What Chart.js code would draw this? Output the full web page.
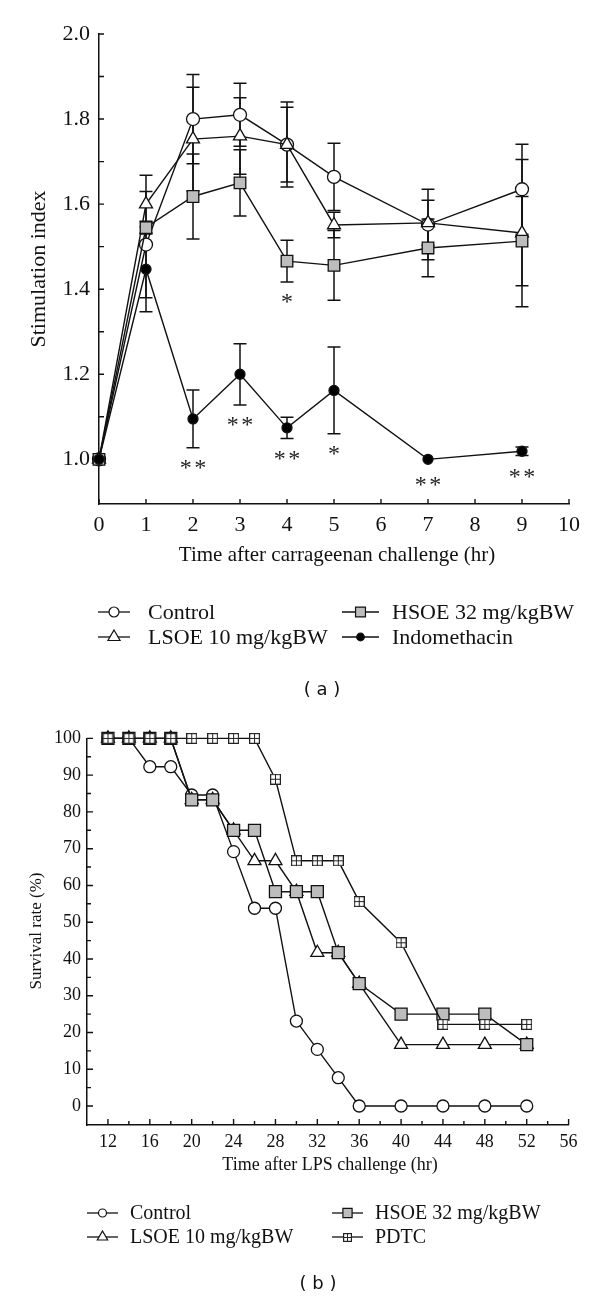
<!DOCTYPE html>
<html><head><meta charset="utf-8">
<script src="https://cdn.jsdelivr.net/npm/chart.js@4.4.1/dist/chart.umd.min.js"></script>
<style>
html,body{margin:0;padding:0;background:#fff;width:600px;height:1300px;overflow:hidden}
canvas{position:absolute;left:0}
#ca{top:0}
#cb{top:700px}
</style></head><body>
<canvas id="ca" width="600" height="700"></canvas>
<canvas id="cb" width="600" height="600"></canvas>
<script>
// ---------- Panel (a): stimulation index ----------
const aTimes = [0, 1, 2, 3, 4, 5, 7, 9];
const aControl = [1.0, 1.505, 1.80, 1.81, 1.74, 1.664, 1.552, 1.635];
const aControlErr = [0, 0.125, 0.105, 0.074, 0.10, 0.079, 0.083, 0.106];
const aLSOE = [1.0, 1.60, 1.753, 1.76, 1.74, 1.551, 1.556, 1.532];
const aLSOEErr = [0, 0.068, 0.122, 0.09, 0.088, 0.03, 0.053, 0.173];
const aHSOE = [1.0, 1.545, 1.618, 1.65, 1.466, 1.456, 1.497, 1.513];
const aHSOEErr = [0, 0.015, 0.10, 0.078, 0.049, 0.082, 0.068, 0.105];
const aIndo = [1.0, 1.447, 1.095, 1.20, 1.074, 1.162, 1.0, 1.019];
const aIndoErr = [0, 0.10, 0.068, 0.072, 0.025, 0.102, 0, 0.01];
const aHSOESig = ['', '', '', '', '*', '', '', ''];
const aIndoSig = ['', '', '**', '**', '**', '*', '**', '**'];
const aXTicks = [0, 1, 2, 3, 4, 5, 6, 7, 8, 9, 10];
const aYMajor = [1.0, 1.2, 1.4, 1.6, 1.8, 2.0];
const aYMinor = [1.1, 1.3, 1.5, 1.7, 1.9];

// ---------- Panel (b): survival rate ----------
const bTimes = [12, 14, 16, 18, 20, 22, 24, 26, 28, 30, 32, 34, 36, 40, 44, 48, 52];
const bControl = [100, 100, 92.3, 92.3, 84.6, 84.6, 69.2, 53.8, 53.8, 23.1, 15.4, 7.7, 0, 0, 0, 0, 0];
const bLSOE = [100, 100, 100, 100, 83.3, 83.3, 75, 66.7, 66.7, 58.3, 41.7, 41.7, 33.3, 16.7, 16.7, 16.7, 16.7];
const bHSOE = [100, 100, 100, 100, 83.3, 83.3, 75, 75, 58.3, 58.3, 58.3, 41.7, 33.3, 25, 25, 25, 16.7];
const bPDTC = [100, 100, 100, 100, 100, 100, 100, 100, 88.9, 66.7, 66.7, 66.7, 55.6, 44.4, 22.2, 22.2, 22.2];
const bXMajor = [12, 16, 20, 24, 28, 32, 36, 40, 44, 48, 52, 56];
const bXMinor = [14, 18, 22, 26, 30, 34, 38, 42, 46, 50, 54];
const bYMajor = [0, 10, 20, 30, 40, 50, 60, 70, 80, 90, 100];
const bYMinor = [5, 15, 25, 35, 45, 55, 65, 75, 85, 95];

// ---------- helpers ----------
const SERIF = '"Liberation Serif", "Times New Roman", serif';
function boxPlus(size) {
  const c = document.createElement('canvas');
  c.width = c.height = size;
  const g = c.getContext('2d');
  g.fillStyle = '#fff'; g.fillRect(0, 0, size, size);
  g.strokeStyle = '#222'; g.lineWidth = 1.2;
  g.strokeRect(0.6, 0.6, size - 1.2, size - 1.2);
  g.lineWidth = 1;
  g.beginPath();
  g.moveTo(size / 2, 1); g.lineTo(size / 2, size - 1);
  g.moveTo(1, size / 2); g.lineTo(size - 1, size / 2);
  g.stroke();
  return c;
}
function drawMarker(ctx, style, x, y, r, fill, stroke, lw) {
  ctx.save();
  if (typeof style === 'object') {
    ctx.drawImage(style, Math.round(x - style.width / 2), Math.round(y - style.height / 2));
    ctx.restore(); return;
  }
  ctx.lineWidth = lw; ctx.strokeStyle = stroke; ctx.fillStyle = fill;
  ctx.beginPath();
  if (style === 'circle') ctx.arc(x, y, r, 0, Math.PI * 2);
  else if (style === 'triangle') {
    ctx.moveTo(x, y - r); ctx.lineTo(x + 0.866 * r, y + 0.5 * r); ctx.lineTo(x - 0.866 * r, y + 0.5 * r); ctx.closePath();
  } else if (style === 'rect') {
    const s = r * Math.SQRT1_2; ctx.rect(x - s, y - s, 2 * s, 2 * s);
  }
  ctx.fill(); ctx.stroke();
  ctx.restore();
}
function mkSet(label, xs, ys, errs, sig, style, radius, fill, order) {
  return {
    label, errors: errs, sig,
    data: xs.map((x, i) => ({ x, y: ys[i] })),
    borderColor: '#111', borderWidth: 1.4, tension: 0, fill: false, clip: false,
    pointStyle: style, pointRadius: radius, pointHoverRadius: radius,
    pointBackgroundColor: fill, pointBorderColor: '#111', pointBorderWidth: 1.3,
    order
  };
}
const isIn = (arr, v) => arr.some(m => Math.abs(m - v) < 1e-9);

const errorBars = {
  id: 'errorBars',
  beforeDatasetsDraw(chart) {
    const { ctx } = chart; const xs = chart.scales.x, ys = chart.scales.y;
    ctx.save(); ctx.strokeStyle = '#111'; ctx.lineWidth = 1.5;
    chart.data.datasets.forEach(ds => {
      if (!ds.errors) return;
      ds.data.forEach((p, i) => {
        const e = ds.errors[i]; if (!e) return;
        const px = xs.getPixelForValue(p.x);
        const t = ys.getPixelForValue(p.y + e), b = ys.getPixelForValue(p.y - e);
        const cap = 6.5;
        ctx.beginPath();
        ctx.moveTo(px, t); ctx.lineTo(px, b);
        ctx.moveTo(px - cap, t); ctx.lineTo(px + cap, t);
        ctx.moveTo(px - cap, b); ctx.lineTo(px + cap, b);
        ctx.stroke();
      });
    });
    ctx.restore();
  },
  afterDatasetsDraw(chart) {
    const { ctx } = chart; const xs = chart.scales.x, ys = chart.scales.y;
    ctx.save(); ctx.fillStyle = '#222'; ctx.font = '24px ' + SERIF;
    ctx.textAlign = 'center'; ctx.textBaseline = 'alphabetic';
    chart.data.datasets.forEach(ds => {
      if (!ds.sig) return;
      ds.data.forEach((p, i) => {
        const s = ds.sig[i]; if (!s) return;
        const e = ds.errors ? ds.errors[i] : 0;
        const px = xs.getPixelForValue(p.x);
        const bot = Math.max(ys.getPixelForValue(p.y - e), ys.getPixelForValue(p.y) + ds.pointRadius);
        const cy = bot + 16;
        const n = s.length, gap = 14.5;
        for (let k = 0; k < n; k++) {
          ctx.fillText('*', px + (k - (n - 1) / 2) * gap, cy + 11.5);
        }
      });
    });
    ctx.restore();
  }
};

const inTicks = {
  id: 'inTicks',
  beforeDatasetsDraw(chart, args, o) {
    const { ctx, chartArea } = chart; const xs = chart.scales.x, ys = chart.scales.y;
    ctx.save(); ctx.strokeStyle = '#111'; ctx.lineWidth = 1.4;
    ctx.beginPath();
    o.xMajor.forEach(v => { const p = xs.getPixelForValue(v); ctx.moveTo(p, chartArea.bottom); ctx.lineTo(p, chartArea.bottom - o.lenMajor); });
    o.xMinor.forEach(v => { const p = xs.getPixelForValue(v); ctx.moveTo(p, chartArea.bottom); ctx.lineTo(p, chartArea.bottom - o.lenMinor); });
    o.yMajor.forEach(v => { const p = ys.getPixelForValue(v); ctx.moveTo(chartArea.left, p); ctx.lineTo(chartArea.left + o.lenMajor, p); });
    o.yMinor.forEach(v => { const p = ys.getPixelForValue(v); ctx.moveTo(chartArea.left, p); ctx.lineTo(chartArea.left + o.lenMinor, p); });
    ctx.stroke(); ctx.restore();
  }
};

const extras = {
  id: 'extras',
  afterDraw(chart, args, o) {
    const { ctx } = chart;
    ctx.save();
    ctx.fillStyle = '#111';
    (o.texts || []).forEach(t => {
      ctx.save();
      ctx.font = t.font; ctx.textAlign = t.align || 'center'; ctx.textBaseline = 'middle';
      ctx.translate(t.x, t.y); if (t.rot) ctx.rotate(t.rot);
      ctx.fillText(t.text, 0, 0);
      ctx.restore();
    });
    const L = o.legend;
    if (L) {
      chart.data.datasets.forEach((ds, i) => {
        const col = L.cols[L.place[i][0]], y = L.rows[L.place[i][1]];
        ctx.save(); ctx.strokeStyle = '#111'; ctx.lineWidth = 1.3;
        ctx.beginPath(); ctx.moveTo(col.x0, y); ctx.lineTo(col.x1, y); ctx.stroke(); ctx.restore();
        const st = L.styles[i];
        drawMarker(ctx, st.style, (col.x0 + col.x1) / 2, y, st.r, ds.pointBackgroundColor, '#111', 1.2);
        ctx.save(); ctx.fillStyle = '#111'; ctx.font = L.font; ctx.textAlign = 'left'; ctx.textBaseline = 'middle';
        ctx.fillText(ds.label, col.tx, y + 1); ctx.restore();
      });
    }
    ctx.restore();
  }
};

function axisOpts(min, max, fontSize, pad, ticksList, labelFn, fit) {
  return {
    type: 'linear', min, max,
    afterBuildTicks: s => { s.ticks = ticksList.map(v => ({ value: v })); },
    afterFit: fit,
    ticks: { autoSkip: false, maxRotation: 0, minRotation: 0, padding: pad, color: '#111',
      font: { family: SERIF, size: fontSize }, callback: labelFn },
    grid: { drawOnChartArea: false, drawTicks: false },
    border: { display: true, color: '#111', width: 1.5 }
  };
}

// ---------- Chart (a) ----------
new Chart(document.getElementById('ca'), {
  type: 'line',
  data: { datasets: [
    mkSet('Control', aTimes, aControl, aControlErr, null, 'circle', 6.5, '#fff', 4),
    mkSet('LSOE 10 mg/kgBW', aTimes, aLSOE, aLSOEErr, null, 'triangle', 7.5, '#fff', 3),
    mkSet('HSOE 32 mg/kgBW', aTimes, aHSOE, aHSOEErr, aHSOESig, 'rect', 8.2, '#bdbdbd', 2),
    mkSet('Indomethacin', aTimes, aIndo, aIndoErr, aIndoSig, 'circle', 5, '#000', 1)
  ]},
  options: {
    responsive: false, animation: false, devicePixelRatio: 1,
    layout: { padding: { left: 0, right: 31, top: 34, bottom: 0 } },
    plugins: {
      legend: { display: false }, tooltip: { enabled: false },
      inTicks: { xMajor: aXTicks, xMinor: [], yMajor: aYMajor, yMinor: aYMinor, lenMajor: 5, lenMinor: 5 },
      extras: {
        texts: [
          { text: 'Time after carrageenan challenge (hr)', x: 337, y: 555, font: '21px ' + SERIF },
          { text: 'Stimulation index', x: 39, y: 269, rot: -Math.PI / 2, font: '22px ' + SERIF },
          { text: '( a )', x: 322, y: 690, font: '18px "DejaVu Sans", sans-serif' }
        ],
        legend: {
          font: '22px ' + SERIF,
          rows: [612, 637],
          cols: [{ x0: 98, x1: 130, tx: 148 }, { x0: 342, x1: 379, tx: 392 }],
          place: [[0, 0], [0, 1], [1, 0], [1, 1]],
          styles: [{ style: 'circle', r: 5 }, { style: 'triangle', r: 7 }, { style: 'rect', r: 7 }, { style: 'circle', r: 3.8 }]
        }
      }
    },
    scales: {
      x: axisOpts(0, 10, 22, 8, aXTicks, v => String(v), s => { s.height = 196; }),
      y: axisOpts(0.895, 2.0, 22, 9, aYMajor.concat(aYMinor).sort((p, q) => p - q),
        v => isIn(aYMajor, v) ? v.toFixed(1) : '', s => { s.width = 99; })
    }
  },
  plugins: [inTicks, errorBars, extras]
});

// ---------- Chart (b) ----------
const pdtcImg = boxPlus(11);
const pdtcLeg = boxPlus(9);
new Chart(document.getElementById('cb'), {
  type: 'line',
  data: { datasets: [
    mkSet('Control', bTimes, bControl, null, null, 'circle', 6, '#fff', 4),
    mkSet('LSOE 10 mg/kgBW', bTimes, bLSOE, null, null, 'triangle', 7.5, '#fff', 3),
    mkSet('HSOE 32 mg/kgBW', bTimes, bHSOE, null, null, 'rect', 8.5, '#bdbdbd', 2),
    mkSet('PDTC', bTimes, bPDTC, null, null, pdtcImg, 6, '#fff', 1)
  ]},
  options: {
    responsive: false, animation: false, devicePixelRatio: 1,
    layout: { padding: { left: 0, right: 31.4, top: 38.4, bottom: 0 } },
    plugins: {
      legend: { display: false }, tooltip: { enabled: false },
      inTicks: { xMajor: bXMajor, xMinor: bXMinor, yMajor: bYMajor, yMinor: bYMinor, lenMajor: 6, lenMinor: 4 },
      extras: {
        texts: [
          { text: 'Time after LPS challenge (hr)', x: 330, y: 465, font: '18px ' + SERIF },
          { text: 'Survival rate (%)', x: 37, y: 231, rot: -Math.PI / 2, font: '17px ' + SERIF },
          { text: '( b )', x: 318, y: 584, font: '18px "DejaVu Sans", sans-serif' }
        ],
        legend: {
          font: '20px ' + SERIF,
          rows: [513, 537],
          cols: [{ x0: 87, x1: 118, tx: 130 }, { x0: 332, x1: 363, tx: 375 }],
          place: [[0, 0], [0, 1], [1, 0], [1, 1]],
          styles: [{ style: 'circle', r: 4 }, { style: 'triangle', r: 6 }, { style: 'rect', r: 6.5 }, { style: pdtcLeg, r: 4.5 }]
        }
      }
    },
    scales: {
      x: axisOpts(10, 56, 18, 6, bXMajor.concat(bXMinor).sort((p, q) => p - q),
        v => isIn(bXMajor, v) ? String(v) : '', s => { s.height = 175; }),
      y: axisOpts(-5.17, 100, 18, 6, bYMajor.concat(bYMinor).sort((p, q) => p - q),
        v => isIn(bYMajor, v) ? String(v) : '', s => { s.width = 87; })
    }
  },
  plugins: [inTicks, errorBars, extras]
});
</script>
</body></html>
